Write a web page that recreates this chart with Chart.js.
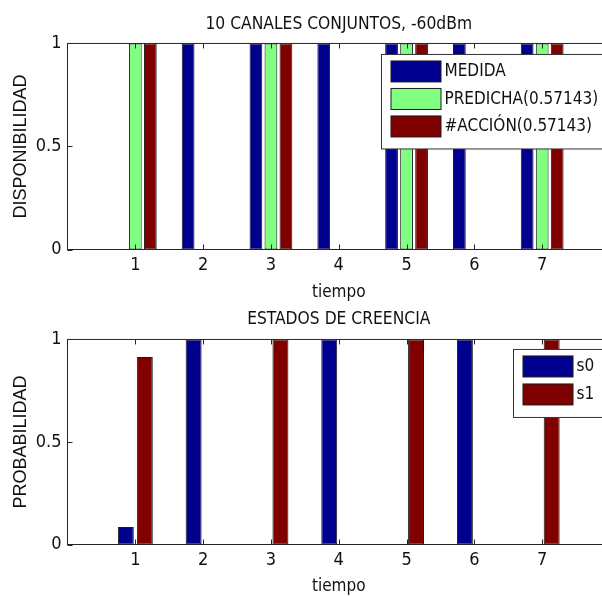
<!DOCTYPE html>
<html>
<head>
<meta charset="utf-8">
<script src="https://cdn.jsdelivr.net/npm/chart.js@4.4.1/dist/chart.umd.min.js"></script>
<style>
  html, body { margin: 0; padding: 0; background: #fff; overflow: hidden; width: 602px; height: 596px; }
  .box { position: absolute; left: 0; width: 620px; }
  #top { top: 0; height: 310px; }
  #bottom { top: 300px; height: 306px; }
</style>
</head>
<body>
<div class="box" id="top"><canvas id="chartTop"></canvas></div>
<div class="box" id="bottom"><canvas id="chartBottom"></canvas></div>
<script>
// time steps (0 and 8 only pad the axis, no label)
const tiempo = ["0", "1", "2", "3", "4", "5", "6", "7", "8"];
const yTicks = [0, 0.5, 1];

// top plot: availability
const medida = [null, 0, 1, 1, 1, 1, 1, 1, null];
const predicha = [null, 1, 0, 1, 0, 1, 0, 1, null];
const accion = [null, 1, 0, 1, 0, 1, 0, 1, null];

// bottom plot: belief states
const s0 = [null, 0.085, 1, 0, 1, 0, 1, 0, null];
const s1 = [null, 0.915, 0, 1, 0, 1, 0, 1, null];

const BLUE = "#00008f";
const GREEN = "#80ff80";
const RED = "#800000";
const EDGE = "#1a1a1a";
const NARROW = "'DejaVu Sans Condensed', 'Liberation Sans Narrow', 'Liberation Sans', sans-serif";
const WIDE = "'Liberation Sans', Arial, sans-serif";

// matlab style box + inward ticks + legend inside the axes
const matlabAxes = {
  id: "matlabAxes",
  afterDatasetsDraw(chart, args, opts) {
    const { ctx, chartArea: a, scales } = chart;
    ctx.save();
    ctx.strokeStyle = "#262626";
    ctx.lineWidth = 1;
    ctx.strokeRect(a.left, a.top, a.right - a.left, a.bottom - a.top);
    ctx.beginPath();
    for (let i = 1; i < tiempo.length - 1; i++) {
      const x = Math.round(scales.x.getPixelForValue(i)) + 0.5;
      ctx.moveTo(x, a.bottom); ctx.lineTo(x, a.bottom - 5);
      ctx.moveTo(x, a.top); ctx.lineTo(x, a.top + 5);
    }
    yTicks.forEach(v => {
      const y = Math.round(scales.y.getPixelForValue(v)) + 0.5;
      ctx.moveTo(a.left, y); ctx.lineTo(a.left + 5, y);
    });
    ctx.stroke();

    // legend
    const L = opts.legend;
    const ds = chart.data.datasets;
    const bx = a.left + L.x, by = a.top + L.y;
    const bh = ds.length * L.row + 12;
    ctx.fillStyle = "#fff";
    ctx.fillRect(bx, by, 300, bh);
    ctx.strokeStyle = "#333";
    ctx.strokeRect(bx, by, 300, bh);
    ctx.font = "17px " + NARROW;
    ctx.textBaseline = "middle";
    ds.forEach((d, i) => {
      const sy = by + 6.5 + i * L.row;
      ctx.fillStyle = d.backgroundColor;
      ctx.fillRect(bx + 9.5, sy, 50, 21);
      ctx.strokeStyle = EDGE;
      ctx.strokeRect(bx + 9.5, sy, 50, 21);
      ctx.fillStyle = "#111";
      ctx.fillText(d.label, bx + 63, sy + 11);
    });
    ctx.restore();
  }
};

function makeChart(id, datasets, cfg) {
  return new Chart(document.getElementById(id), {
    type: "bar",
    data: { labels: tiempo, datasets: datasets },
    plugins: [matlabAxes],
    options: {
      responsive: true,
      maintainAspectRatio: false,
      animation: false,
      categoryPercentage: cfg.catPct,
      barPercentage: cfg.barPct,
      layout: { padding: { left: 0, right: 10, top: 0, bottom: 0 } },
      scales: {
        x: {
          offset: false,
          grid: { display: false, drawTicks: false },
          border: { display: false },
          ticks: {
            autoSkip: false,
            maxRotation: 0,
            padding: 5,
            color: "#111",
            font: { family: NARROW, size: 18 },
            callback: (v, i) => (i === 0 || i === tiempo.length - 1 ? "" : tiempo[i])
          },
          title: {
            display: true,
            text: "tiempo",
            color: "#111",
            font: { family: NARROW, size: 17 },
            padding: { top: 0, bottom: cfg.xTitlePad }
          },
          afterFit: s => { s.height = cfg.xHeight; }
        },
        y: {
          min: 0,
          max: 1,
          grid: { display: false, drawTicks: false },
          border: { display: false },
          afterBuildTicks: s => { s.ticks = yTicks.map(v => ({ value: v })); },
          ticks: {
            padding: 6,
            color: "#111",
            font: { family: NARROW, size: 18 },
            callback: v => String(v)
          },
          title: {
            display: true,
            text: cfg.yTitle,
            color: "#111",
            font: { family: WIDE, size: 18 },
            padding: { top: 10.5, bottom: 0 }
          },
          afterFit: s => { s.width = 67.5; }
        }
      },
      plugins: {
        legend: { display: false },
        tooltip: { enabled: false },
        title: {
          display: true,
          fullSize: false,
          text: cfg.title,
          color: "#111",
          font: { family: NARROW, size: 17.3, weight: "normal" },
          padding: { top: cfg.titleTop, bottom: cfg.titleBottom }
        },
        matlabAxes: { legend: cfg.legend }
      }
    }
  });
}

const bar = (label, data, color) => ({
  label: label,
  data: data,
  backgroundColor: color,
  borderColor: EDGE,
  borderWidth: 1,
  borderSkipped: false
});

makeChart("chartTop", [
  bar("MEDIDA", medida, BLUE),
  bar("PREDICHA(0.57143)", predicha, GREEN),
  bar("#ACCIÓN(0.57143)", accion, RED)
], {
  title: "10 CANALES CONJUNTOS, -60dBm",
  yTitle: "DISPONIBILIDAD",
  titleTop: 14.4, titleBottom: 8.3,
  xHeight: 60.5, xTitlePad: 7.5,
  catPct: 0.664, barPct: 0.85,
  legend: { x: 314, y: 11, row: 27.5 }
});

makeChart("chartBottom", [
  bar("s0", s0, BLUE),
  bar("s1", s1, RED)
], {
  title: "ESTADOS DE CREENCIA",
  yTitle: "PROBABILIDAD",
  titleTop: 9.4, titleBottom: 9.3,
  xHeight: 61.5, xTitlePad: 9.2,
  catPct: 0.56, barPct: 0.84,
  legend: { x: 446, y: 10, row: 28 }
});
</script>
</body>
</html>
